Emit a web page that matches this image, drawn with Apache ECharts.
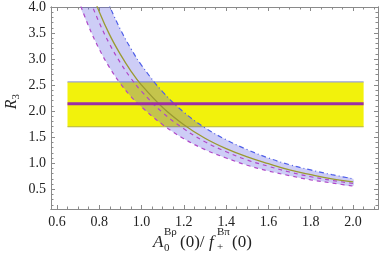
<!DOCTYPE html>
<html><head><meta charset="utf-8">
<script src="https://cdn.jsdelivr.net/npm/echarts@6/dist/echarts.min.js"></script>
<style>html,body{margin:0;padding:0;background:#fff}#c{width:382px;height:263px}</style>
</head><body><div id="c"></div>
<script>
// ---- data ----
const xs        = [0.70, 0.75, 0.80, 0.85, 0.90, 0.95, 1.00, 1.10, 1.20, 1.30, 1.40, 1.50, 1.60, 1.70, 1.80, 1.90, 2.00];
const lowerR3   = [4.16, 3.63, 3.19, 2.83, 2.53, 2.28, 2.08, 1.74, 1.47, 1.26, 1.10, 0.96, 0.85, 0.76, 0.68, 0.62, 0.56];
const innerR3   = [4.84, 4.21, 3.70, 3.28, 2.93, 2.63, 2.38, 1.97, 1.66, 1.41, 1.22, 1.06, 0.94, 0.83, 0.74, 0.67, 0.61];
const centralR3 = [5.10, 4.44, 3.91, 3.46, 3.09, 2.77, 2.50, 2.07, 1.74, 1.48, 1.28, 1.12, 0.99, 0.87, 0.78, 0.70, 0.64];
const upperR3   = [5.92, 5.16, 4.53, 4.01, 3.57, 3.20, 2.88, 2.37, 1.98, 1.68, 1.45, 1.26, 1.10, 0.97, 0.87, 0.78, 0.70];
const expX      = [0.65, 2.05];
const expLow    = 1.70;
const expHigh   = 2.56;
const expCentral= 2.14;
const xMajor = [0.6, 0.8, 1.0, 1.2, 1.4, 1.6, 1.8, 2.0];
const xMinor = [0.65,0.7,0.75,0.85,0.9,0.95,1.05,1.1,1.15,1.25,1.3,1.35,1.45,1.5,1.55,1.65,1.7,1.75,1.85,1.9,1.95,2.05,2.1];
const yMajor = [0.5, 1.0, 1.5, 2.0, 2.5, 3.0, 3.5, 4.0];
const yMinor = [0.2,0.3,0.4,0.6,0.7,0.8,0.9,1.1,1.2,1.3,1.4,1.6,1.7,1.8,1.9,2.1,2.2,2.3,2.4,2.6,2.7,2.8,2.9,3.1,3.2,3.3,3.4,3.6,3.7,3.8,3.9];
const X_MIN = 0.572, X_MAX = 2.118, Y_MIN = 0.12, Y_MAX = 4.0;

const pts = (arr) => xs.map((x, i) => [x, arr[i]]);

const AX = '#8a8a8a';
const SERIF = '"Liberation Serif","DejaVu Serif",serif';
function xAx(pos, vals, len, labels) {
  return {type:'value', position:pos, min:X_MIN, max:X_MAX,
    axisLine:{show:true, onZero:false, lineStyle:{color:AX, width:1}},
    splitLine:{show:false},
    axisTick:{show:true, inside:true, length:len, customValues:vals, lineStyle:{color:AX, width:1}},
    axisLabel:{show:labels, customValues:vals, formatter:v=>v.toFixed(1), fontFamily:SERIF, fontSize:14, color:'#222', margin:6}};
}
function yAx(pos, vals, len, labels) {
  return {type:'value', position:pos, min:Y_MIN, max:Y_MAX,
    axisLine:{show:true, onZero:false, lineStyle:{color:AX, width:1}},
    splitLine:{show:false},
    axisTick:{show:true, inside:true, length:len, customValues:vals, lineStyle:{color:AX, width:1}},
    axisLabel:{show:labels, customValues:vals, formatter:v=>v.toFixed(1), fontFamily:SERIF, fontSize:14, color:'#222', margin:5}};
}

function bandRender(params, api) {
  if (params.dataIndex !== 0) return;
  const cs = params.coordSys;
  const top = xs.map((x, i) => api.coord([x, upperR3[i]]));
  const bot = xs.map((x, i) => api.coord([x, lowerR3[i]])).reverse();
  return {type:'polygon', shape:{points: top.concat(bot), smooth:0.25},
    style:{fill:'rgba(90,90,225,0.3)'},
    clipPath:{type:'rect', shape:{x:cs.x, y:cs.y, width:cs.width, height:cs.height}}};
}
function expRender(params, api) {
  if (params.dataIndex !== 0) return;
  const p0 = api.coord([expX[0], expHigh]);
  const p1 = api.coord([expX[1], expLow]);
  return {type:'rect', shape:{x:p0[0], y:p0[1], width:p1[0]-p0[0], height:p1[1]-p0[1]}, style:{fill:'#f2f20c'}};
}

const chart = echarts.init(document.getElementById('c'), null, {renderer:'canvas'});
chart.setOption({
  animation:false,
  grid:{left:51, right:4, top:5, bottom:54},
  xAxis:[xAx('bottom', xMajor, 4, true), xAx('bottom', xMinor, 2.5, false), xAx('top', xMajor, 4, false), xAx('top', xMinor, 2.5, false)],
  yAxis:[yAx('left', yMajor, 4, true), yAx('left', yMinor, 2.5, false), yAx('right', yMajor, 4, false), yAx('right', yMinor, 2.5, false)],
  series:[
    {type:'custom', z:1, renderItem:expRender, data:[[expX[0], expLow]]},
    {type:'line', z:2, data:[[expX[0], expLow],[expX[1], expLow]], symbol:'none', lineStyle:{color:'#b4b43c', width:1.2}},
    {type:'line', z:2, data:[[expX[0], expHigh],[expX[1], expHigh]], symbol:'none', lineStyle:{color:'#9aa0d4', width:1.2}},
    {type:'custom', z:3, renderItem:bandRender, data:[[xs[0], lowerR3[0]]]},
    {type:'line', z:4, data:pts(lowerR3), symbol:'none', smooth:0.4, lineStyle:{color:'#b048c8', width:1.2, type:[4,4]}},
    {type:'line', z:4, data:pts(innerR3), symbol:'none', smooth:0.4, lineStyle:{color:'#b048c8', width:1.2, type:[4,4]}},
    {type:'line', z:4, data:pts(upperR3), symbol:'none', smooth:0.4, lineStyle:{color:'#4f5fe8', width:1.2, type:[5,3,1,3]}},
    {type:'line', z:4, data:pts(centralR3), symbol:'none', smooth:0.4, lineStyle:{color:'#9a9a30', width:1.3}},
    {type:'line', z:5, data:[[expX[0], expCentral],[expX[1], expCentral]], symbol:'none', lineStyle:{color:'#9a2fa6', width:3}}
  ],
  graphic:[
    {type:'text', left:4, top:94, rotation:Math.PI/2, style:{text:'{i|R}{s|3}', rich:{i:{fontFamily:SERIF, fontStyle:'italic', fontSize:16, fill:'#222'}, s:{fontFamily:SERIF, fontSize:11, fill:'#222', padding:[8,0,0,0]}}}},
    {type:'group', left:153, top:227, children:[
      {type:'text', x:0, y:8, style:{text:'A', fontFamily:SERIF, fontStyle:'italic', fontSize:17, fill:'#222'}},
      {type:'text', x:11, y:1, style:{text:'Bρ', fontFamily:SERIF, fontSize:11, fill:'#222'}},
      {type:'text', x:11, y:17, style:{text:'0', fontFamily:SERIF, fontSize:11, fill:'#222'}},
      {type:'text', x:27, y:8, style:{text:'(0)/', fontFamily:SERIF, fontSize:17, fill:'#222'}},
      {type:'text', x:56, y:8, style:{text:'f', fontFamily:SERIF, fontStyle:'italic', fontSize:17, fill:'#222'}},
      {type:'text', x:64, y:1, style:{text:'Bπ', fontFamily:SERIF, fontSize:11, fill:'#222'}},
      {type:'text', x:64, y:16, style:{text:'+', fontFamily:SERIF, fontSize:11, fill:'#222'}},
      {type:'text', x:79, y:8, style:{text:'(0)', fontFamily:SERIF, fontSize:17, fill:'#222'}}
    ]}
  ]
});
</script></body></html>
